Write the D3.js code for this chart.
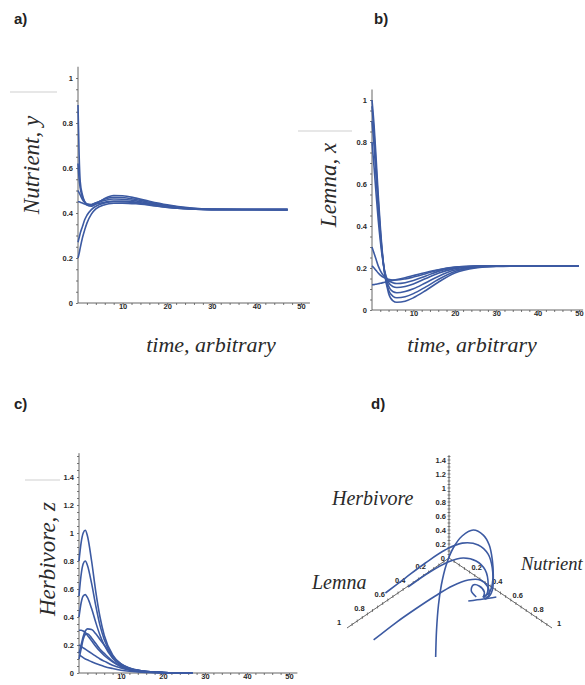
<!DOCTYPE html>
<meta charset="utf-8">
<style>
  body { margin: 0; background: #fff; }
  svg { display: block; }
  .tick text { font: bold 7.5px "Liberation Sans", sans-serif; fill: #2a2a2a; }
  .tick line { stroke: #555; stroke-width: .8; }
  .axisline { stroke: #555; stroke-width: .9; fill: none; }
  .curve { fill: none; stroke: #3c5aa2; stroke-width: 1.6; }
  .lab { font-family: "Liberation Serif", serif; font-style: italic; fill: #2a2a2a; }
  .panel { font: bold 15px "Liberation Sans", sans-serif; fill: #222; }
</style>
<body>
<svg id="fig" width="585" height="685"></svg>
<script src="https://cdn.jsdelivr.net/npm/d3@7"></script>
<script>

  // a) Nutrient, y
  const tA = [0, 0.25, 0.5, 1, 1.5, 2, 3, 4, 6, 8, 10, 13, 16, 20, 25, 30, 47];
  const nutrientRuns = [
    [0.88, 0.66, 0.54, 0.48, 0.45, 0.435, 0.43, 0.44, 0.465, 0.478, 0.477, 0.466, 0.452, 0.436, 0.423, 0.417, 0.415],
    [0.62, 0.55, 0.51, 0.47, 0.45, 0.44, 0.436, 0.444, 0.462, 0.47, 0.469, 0.46, 0.448, 0.433, 0.421, 0.416, 0.415],
    [0.5, 0.49, 0.48, 0.46, 0.447, 0.44, 0.438, 0.445, 0.456, 0.462, 0.461, 0.454, 0.444, 0.43, 0.42, 0.416, 0.415],
    [0.45, 0.45, 0.448, 0.444, 0.44, 0.437, 0.436, 0.44, 0.448, 0.453, 0.453, 0.448, 0.44, 0.428, 0.419, 0.416, 0.415],
    [0.27, 0.29, 0.31, 0.34, 0.37, 0.39, 0.415, 0.43, 0.445, 0.45, 0.45, 0.445, 0.437, 0.426, 0.418, 0.415, 0.415],
    [0.2, 0.22, 0.245, 0.29, 0.325, 0.355, 0.395, 0.418, 0.437, 0.443, 0.444, 0.441, 0.435, 0.425, 0.418, 0.415, 0.415]
  ];

  // b) Lemna, x
  const tB = [0, 0.5, 1, 1.5, 2, 3, 4, 5, 6, 8, 10, 13, 16, 20, 25, 30, 40, 50];
  const lemnaRuns = [
    [1.0, 0.88, 0.72, 0.55, 0.4, 0.18, 0.08, 0.045, 0.037, 0.042, 0.058, 0.093, 0.132, 0.176, 0.2, 0.207, 0.21, 0.21],
    [0.97, 0.84, 0.68, 0.52, 0.38, 0.18, 0.095, 0.066, 0.058, 0.063, 0.078, 0.11, 0.145, 0.183, 0.203, 0.208, 0.21, 0.21],
    [0.9, 0.78, 0.63, 0.49, 0.36, 0.19, 0.114, 0.088, 0.082, 0.088, 0.101, 0.13, 0.16, 0.19, 0.205, 0.209, 0.21, 0.21],
    [0.8, 0.68, 0.55, 0.43, 0.33, 0.19, 0.132, 0.112, 0.107, 0.112, 0.124, 0.15, 0.175, 0.197, 0.207, 0.21, 0.21, 0.21],
    [0.3, 0.27, 0.24, 0.21, 0.188, 0.158, 0.14, 0.13, 0.126, 0.13, 0.14, 0.162, 0.184, 0.2, 0.208, 0.21, 0.21, 0.21],
    [0.21, 0.2, 0.188, 0.176, 0.166, 0.153, 0.146, 0.143, 0.143, 0.148, 0.157, 0.173, 0.19, 0.203, 0.209, 0.21, 0.21, 0.21],
    [0.12, 0.121, 0.123, 0.125, 0.127, 0.132, 0.137, 0.141, 0.145, 0.154, 0.164, 0.179, 0.192, 0.204, 0.209, 0.21, 0.21, 0.21]
  ];

  // c) Herbivore, z
  const tC = [0, 0.5, 1, 1.5, 2, 3, 4, 5, 6, 8, 10, 12, 15, 20, 27];
  const herbivoreRuns = [
    [0.8, 0.93, 1.0, 1.02, 0.98, 0.8, 0.58, 0.4, 0.27, 0.13, 0.065, 0.035, 0.015, 0.004, 0],
    [0.55, 0.7, 0.78, 0.8, 0.77, 0.64, 0.48, 0.34, 0.24, 0.12, 0.06, 0.032, 0.014, 0.004, 0],
    [0.4, 0.5, 0.55, 0.56, 0.54, 0.46, 0.36, 0.27, 0.2, 0.105, 0.055, 0.03, 0.013, 0.004, 0],
    [0.305, 0.305, 0.3, 0.29, 0.27, 0.23, 0.19, 0.155, 0.125, 0.08, 0.045, 0.025, 0.011, 0.003, 0],
    [0.14, 0.2, 0.26, 0.3, 0.315, 0.31, 0.28, 0.24, 0.2, 0.12, 0.065, 0.035, 0.015, 0.004, 0],
    [0.2, 0.19, 0.18, 0.17, 0.16, 0.14, 0.12, 0.1, 0.085, 0.055, 0.035, 0.02, 0.009, 0.002, 0],
    [0.13, 0.12, 0.11, 0.1, 0.094, 0.08, 0.068, 0.057, 0.047, 0.032, 0.02, 0.012, 0.005, 0.001, 0],
    [0.1, 0.17, 0.24, 0.275, 0.28, 0.25, 0.21, 0.17, 0.14, 0.085, 0.05, 0.027, 0.012, 0.003, 0]
  ];

  // d) phase space, points are [lemna, nutrient, herbivore]
  const phaseRuns = [
    [[0.776,0.639,0],[0.628,0.501,0.1],[0.489,0.382,0.2],[0.382,0.304,0.3],[0.29,0.26,0.45],[0.209,0.248,0.6],
     [0.155,0.281,0.75],[0.133,0.367,0.9],[0.095,0.427,0.85],[0.062,0.452,0.7],[0.08,0.5,0.55],[0.082,0.511,0.35],
     [0.094,0.514,0.15],[0.114,0.494,0.05],[0.105,0.437,0]],
    [[0.956,0.215,0],[0.738,0.211,0.02],[0.555,0.224,0.05],[0.38,0.243,0.08],[0.245,0.275,0.12],[0.14,0.325,0.15],
     [0.081,0.383,0.15],[0.065,0.436,0.1],[0.082,0.472,0.04],[0.122,0.474,0.01],[0.105,0.437,0]],
    [[0.712,0.088,0.3],[0.533,0.103,0.35],[0.362,0.129,0.42],[0.213,0.173,0.5],[0.105,0.232,0.55],[0.04,0.323,0.55],
     [0.007,0.387,0.45],[0.011,0.431,0.3],[0.036,0.456,0.12],[0.082,0.462,0.03],[0.105,0.437,0]],
    [[0.482,0.082,0.15],[0.31,0.105,0.2],[0.159,0.149,0.25],[0.072,0.208,0.28],[0.02,0.283,0.26],[0.0,0.351,0.18],
     [0.033,0.413,0.06],[0.089,0.45,0.01],[0.105,0.437,0]],
    [[0.157,0.42,0.02],[0.148,0.363,0.04],[0.106,0.34,0.06],[0.079,0.371,0.05],[0.087,0.429,0.03],[0.113,0.445,0],[0.105,0.437,0]],
    [[0.215,0.4,0],[0.127,0.459,0],[0.049,0.508,0]]
  ];

  const timeTicks = [0, 10, 20, 30, 40, 50];
  const axisLabels = ["Nutrient, y", "Lemna, x", "Herbivore, z"];
  const fmt = d => String(Math.round(d * 100) / 100);

  const svg = d3.select("#fig");

  // faint scan marks from the source figure
  [[10, 57, 92], [298, 352, 131], [25, 60, 480]].forEach(([a, b, yy]) => {
    svg.append("line").attr("x1", a).attr("x2", b).attr("y1", yy).attr("y2", yy)
      .attr("stroke", "#cfcfcf").attr("stroke-width", 1);
  });

  function timePanel(cfg) {
    const g = svg.append("g");
    const x = d3.scaleLinear().domain([0, 50]).range(cfg.xr);
    const y = d3.scaleLinear().domain([0, cfg.yMax]).range(cfg.yr);

    // x axis
    g.append("line").attr("class", "axisline")
      .attr("x1", x(0)).attr("x2", x(cfg.xEnd)).attr("y1", y(0)).attr("y2", y(0));
    g.append("g").attr("transform", `translate(0,${y(0)})`)
      .call(d3.axisBottom(x).tickValues(d3.range(2, 51, 2)).tickSize(2).tickSizeOuter(0).tickPadding(-1.5)
        .tickFormat(d => timeTicks.includes(d) ? d : ""))
      .call(a => a.select(".domain").remove());

    // y axis
    g.append("line").attr("class", "axisline")
      .attr("x1", x(0)).attr("x2", x(0)).attr("y1", y(0)).attr("y2", y(cfg.yTop));
    g.append("g").attr("transform", `translate(${x(0)},0)`)
      .call(d3.axisLeft(y).tickValues(d3.range(0, cfg.yTop, 0.05)).tickSize(2).tickSizeOuter(0).tickPadding(3)
        .tickFormat(d => Math.abs(d * 5 - Math.round(d * 5)) < 1e-6 ? fmt(d) : ""))
      .call(a => a.select(".domain").remove());

    const line = d3.line().x((d, i) => x(cfg.t[i])).y(d => y(d)).curve(d3.curveMonotoneX);
    g.selectAll("path.curve").data(cfg.runs).join("path").attr("class", "curve").attr("d", line);

    g.append("text").attr("class", "lab").attr("font-size", 23)
      .attr("text-anchor", "middle")
      .attr("transform", `translate(${cfg.ylab[0]},${cfg.ylab[1]}) rotate(-90)`)
      .text(cfg.label);
    if (cfg.xlab) {
      g.append("text").attr("class", "lab").attr("font-size", 22)
        .attr("text-anchor", "middle").attr("x", cfg.xlab[0]).attr("y", cfg.xlab[1])
        .text("time, arbitrary");
    }
  }

  timePanel({ t: tA, runs: nutrientRuns, xr: [78, 301], yr: [303, 78], yMax: 1, yTop: 1.05, xEnd: 52,
    label: axisLabels[0], ylab: [39, 165], xlab: [211, 352] });
  timePanel({ t: tB, runs: lemnaRuns, xr: [372, 579], yr: [310, 100], yMax: 1, yTop: 1.05, xEnd: 51,
    label: axisLabels[1], ylab: [336, 185], xlab: [472, 352] });
  timePanel({ t: tC, runs: herbivoreRuns, xr: [79, 289], yr: [673, 477], yMax: 1.4, yTop: 1.57, xEnd: 52,
    label: axisLabels[2], ylab: [55, 559] });

  // d) 3D projection
  const ox = 449, oy = 558;
  const lemX = d3.scaleLinear([0, 1], [0, -102]), lemY = d3.scaleLinear([0, 1], [0, 70]);
  const nutX = d3.scaleLinear([0, 1], [0, 103]), nutY = d3.scaleLinear([0, 1], [0, 70]);
  const herY = d3.scaleLinear([0, 1], [0, -70]);
  const project = ([l, n, h]) => [ox + lemX(l) + nutX(n), oy + lemY(l) + nutY(n) + herY(h)];

  const gd = svg.append("g");
  const axes3d = [
    { p: t => [t, 0, 0], end: 1, off: [-8, -6], tick: [0, 1] },
    { p: t => [0, t, 0], end: 1, off: [7, -5], tick: [0, 1] },
    { p: t => [0, 0, t], end: 1.47, off: [-3, 0], tick: [1, 0] }
  ];
  axes3d.forEach((ax, k) => {
    const a = project(ax.p(0)), b = project(ax.p(ax.end));
    gd.append("line").attr("class", "axisline").attr("stroke-width", .7)
      .attr("x1", a[0]).attr("y1", a[1]).attr("x2", b[0]).attr("y2", b[1]);
    d3.range(0.05, ax.end, 0.05).forEach(v => {
      const c = project(ax.p(v));
      gd.append("line").attr("stroke", "#555").attr("stroke-width", .7)
        .attr("x1", c[0] - ax.tick[0] * 1.5).attr("x2", c[0] + ax.tick[0] * 1.5)
        .attr("y1", c[1] - ax.tick[1] * 1.5).attr("y2", c[1] + ax.tick[1] * 1.5);
    });
    const labs = k === 2 ? [0.2, 0.4, 0.6, 0.8, 1, 1.2, 1.4] : [0.2, 0.4, 0.6, 0.8, 1];
    labs.forEach(v => {
      const c = project(ax.p(v));
      gd.append("text")
        .attr("x", c[0] + ax.off[0]).attr("y", c[1] + ax.off[1])
        .attr("text-anchor", k === 2 ? "end" : "middle").attr("dy", "0.35em")
        .style("font", "bold 7.5px 'Liberation Sans', sans-serif").style("fill", "#2a2a2a")
        .text(fmt(v));
    });
  });
  gd.append("text").attr("x", ox - 4).attr("y", oy).attr("dy", "0.35em").attr("text-anchor", "end")
    .style("font", "bold 7.5px 'Liberation Sans', sans-serif").style("fill", "#2a2a2a").text("0");

  const line3d = d3.line().curve(d3.curveCatmullRom.alpha(0.5));
  gd.selectAll("path.curve").data(phaseRuns).join("path").attr("class", "curve")
    .attr("stroke-width", 1.3).attr("d", d => line3d(d.map(project)));

  gd.append("text").attr("class", "lab").attr("font-size", 20).attr("x", 332).attr("y", 505).text("Herbivore");
  gd.append("text").attr("class", "lab").attr("font-size", 20).attr("x", 312).attr("y", 589).text("Lemna");
  gd.append("text").attr("class", "lab").attr("font-size", 18.5).attr("x", 521).attr("y", 570).text("Nutrient");

  // panel letters
  [["a)", 14, 24], ["b)", 374, 24], ["c)", 14, 409], ["d)", 371, 409]].forEach(([s, px, py]) => {
    svg.append("text").attr("class", "panel").attr("x", px).attr("y", py).text(s);
  });

</script>
</body>
